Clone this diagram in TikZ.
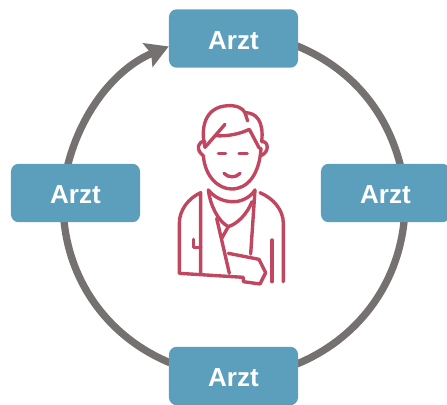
\documentclass[tikz,border=0pt]{standalone}
\usepackage{fontspec}
\setmainfont{Liberation Sans}
\usetikzlibrary{arrows.meta,backgrounds}
\definecolor{boxblue}{HTML}{5B9FBD}
\definecolor{ringgray}{HTML}{767171}
\definecolor{figred}{HTML}{C0475F}
\tikzset{
	arzt/.style={draw=none,fill=boxblue,rounded corners=5.5pt,minimum width=3.225cm,minimum height=1.46cm,text=white,font=\fontsize{18.5}{22}\selectfont\bfseries,inner sep=0pt,text height=15pt,text depth=0pt},
	ring/.style={draw=ringgray,line width=5.2pt,looseness=0.92},
	fig/.style={draw=figred,line width=2.4pt,line cap=round,line join=round}
}
\begin{document}
\begin{tikzpicture}[x=0.025cm,y=0.025cm]
	\useasboundingbox (0,0) rectangle (447,405);
	
	%boxes
	\node[arzt] (top) at (233.5,366.5) {Arzt};
	\node[arzt] (left) at (75.5,212) {Arzt};
	\node[arzt] (right) at (385.5,212) {Arzt};
	\node[arzt] (bottom) at (233.5,29) {Arzt};
	
	%ring
	\begin{pgfonlayer}{background}
		\draw[ring,shorten <=-1pt,shorten >=-1pt] (top.-7.5) to[out=-22.4,in=104.3] (right.64);
		\draw[ring,shorten <=-1pt,shorten >=-1pt] (right.-58) to[out=-95.7,in=22.4] (bottom.11.4);
		\draw[ring,shorten <=-1pt,shorten >=-1pt] (bottom.168.6) to[out=157.6,in=-84.3] (left.-111.6);
		\draw[ring,shorten <=-1pt,-{Stealth[length=16pt,width=18pt,inset=2.5pt]}] (left.104) to[out=75.7,in=202.4] (top.187.5);
	\end{pgfonlayer}
	
	%patient, in thirds of a pixel
	\begin{scope}[x=0.025cm/3,y=-0.025cm/3,shift={(480,-945)}]
		%hair
		\draw[fig] (135,172) .. controls (122,120) and (130,50) .. (205,47) .. controls (232,46) and (248,55) .. (255,68) .. controls (290,68) and (312,95) .. (305,155);
		\draw[fig] (255,68) -- (263,93);
		\draw[fig] (135,172) -- (195,103);
		\draw[fig] (165,137) .. controls (200,140) and (240,132) .. (268,118) -- (298,175);
		%ears
		\draw[fig] (135,155) .. controls (115,150) and (105,180) .. (130,197);
		\draw[fig] (305,155) .. controls (325,152) and (330,185) .. (303,197);
		%face
		\draw[fig] (130,197) .. controls (135,260) and (175,297) .. (215,297) .. controls (262,297) and (298,255) .. (303,175);
		\draw[fig] (175,191) -- (197,191);
		\draw[fig] (237,191) -- (262,191);
		\draw[fig] (192,250) .. controls (205,264) and (228,264) .. (240,250);
		%collar
		\draw[fig] (145,300) .. controls (165,325) and (195,337) .. (225,335) .. controls (250,333) and (272,320) .. (285,300);
		\draw[fig] (145,300) .. controls (150,345) and (175,395) .. (205,410) .. controls (235,400) and (262,370) .. (276,335);
		\draw[fig] (205,410) -- (185,445);
		%sling
		\draw[fig] (170,385) -- (208,550);
		\draw[fig] (285,300) -- (272,492);
		\draw[fig] (205,490) -- (297,508) -- (317,548) -- (300,582) -- (250,575) -- (250,562) -- (58,550);
		%arms
		\draw[fig] (58,550) -- (58,400) .. controls (58,360) and (85,325) .. (122,308) -- (122,550);
		\draw[fig] (100,448) -- (100,472) -- (122,472);
		\draw[fig] (300,308) .. controls (340,325) and (370,360) .. (370,400) -- (370,575);
		\draw[fig] (336,450) -- (336,575);
	\end{scope}
\end{tikzpicture}
\end{document}
